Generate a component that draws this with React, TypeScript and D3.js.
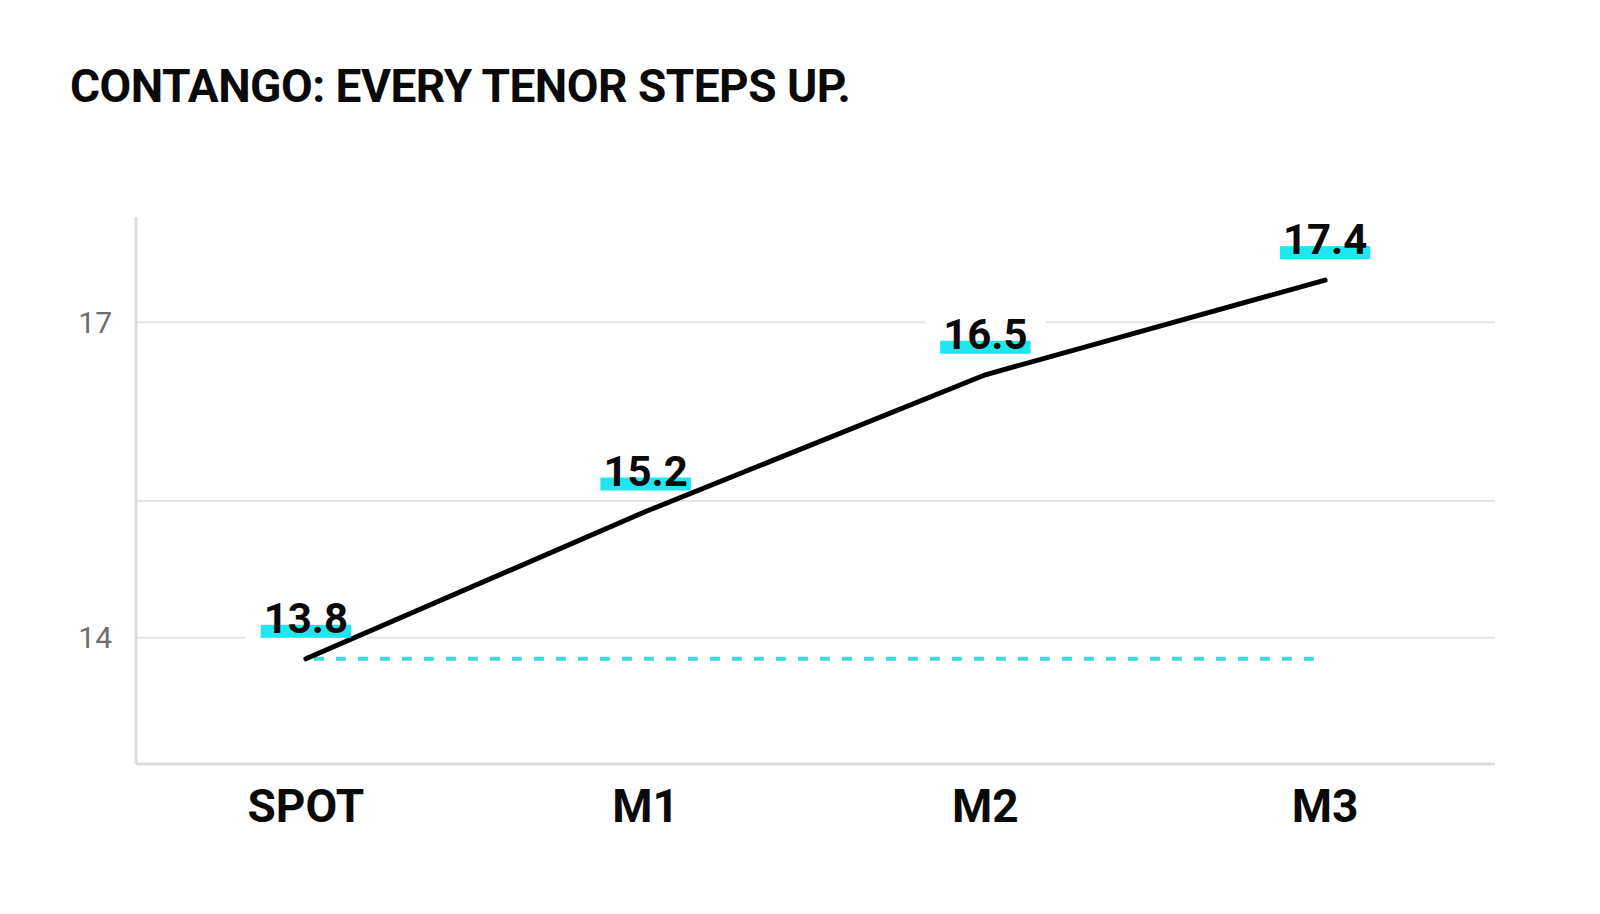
import React, { useEffect, useRef } from 'react';
import * as d3 from 'd3';

const chartTitle = 'CONTANGO: EVERY TENOR STEPS UP.';
const tenors = ['SPOT', 'M1', 'M2', 'M3'];
const curveValues = [13.8, 15.2, 16.5, 17.4];
const valueLabels = ['13.8', '15.2', '16.5', '17.4'];
const gridValues = [14, 15.3, 17];
const tickLabels = ['14', '', '17'];
const yDomain = [12.8, 18];

const WIDTH = 1600;
const HEIGHT = 914;
const FONT = "Roboto, 'Liberation Sans', Arial, sans-serif";
const CYAN = '#1fe6ef';

const App: React.FC = () => {
    const svgRef = useRef<SVGSVGElement | null>(null);

    useEffect(() => {
        document.body.style.margin = '0';
        const svg = d3.select(svgRef.current);
        svg.selectAll('*').remove();

        const plot = { left: 136, right: 1495, top: 217, bottom: 764 };

        const xScale = d3.scalePoint<string>()
            .domain(tenors)
            .range([plot.left, plot.right])
            .padding(0.5);

        const yScale = d3.scaleLinear()
            .domain(yDomain)
            .range([plot.bottom, plot.top]);

        svg.append('rect')
            .attr('width', WIDTH)
            .attr('height', HEIGHT)
            .attr('fill', '#ffffff');

        // title
        svg.append('text')
            .attr('x', 70)
            .attr('y', 102)
            .attr('font-family', FONT)
            .attr('font-weight', 700)
            .attr('font-size', 46)
            .attr('letter-spacing', -0.5)
            .attr('fill', '#0a0a0a')
            .text(chartTitle);

        // gridlines + y ticks
        const grid = svg.append('g');
        grid.selectAll('line')
            .data(gridValues)
            .join('line')
            .attr('x1', plot.left)
            .attr('x2', plot.right)
            .attr('y1', d => yScale(d))
            .attr('y2', d => yScale(d))
            .attr('stroke', '#e4e4e4')
            .attr('stroke-width', 2);

        grid.selectAll('text')
            .data(gridValues)
            .join('text')
            .attr('x', 112)
            .attr('y', d => yScale(d))
            .attr('dy', '0.35em')
            .attr('text-anchor', 'end')
            .attr('font-family', FONT)
            .attr('font-size', 30)
            .attr('fill', '#6e6e6e')
            .text((_, i) => tickLabels[i]);

        // axes
        svg.append('line')
            .attr('x1', plot.left).attr('x2', plot.left)
            .attr('y1', plot.top).attr('y2', plot.bottom)
            .attr('stroke', '#dcdcdc').attr('stroke-width', 3);
        svg.append('line')
            .attr('x1', plot.left).attr('x2', plot.right)
            .attr('y1', plot.bottom).attr('y2', plot.bottom)
            .attr('stroke', '#dcdcdc').attr('stroke-width', 3);

        svg.append('g')
            .selectAll('text')
            .data(tenors)
            .join('text')
            .attr('x', d => xScale(d)!)
            .attr('y', 822)
            .attr('text-anchor', 'middle')
            .attr('font-family', FONT)
            .attr('font-weight', 700)
            .attr('font-size', 46)
            .attr('fill', '#0a0a0a')
            .text(d => d);

        const knockout = svg.append('g');

        // spot reference (dashed)
        const spot = curveValues[0];
        svg.append('line')
            .attr('x1', xScale(tenors[0])!)
            .attr('x2', xScale(tenors[tenors.length - 1])!)
            .attr('y1', yScale(spot))
            .attr('y2', yScale(spot))
            .attr('stroke', '#3fd9e2')
            .attr('stroke-width', 4)
            .attr('stroke-dasharray', '10 12')
            .attr('stroke-dashoffset', -8);

        // forward curve
        const line = d3.line<number>()
            .x((_, i) => xScale(tenors[i])!)
            .y(d => yScale(d));

        svg.append('path')
            .datum(curveValues)
            .attr('d', line)
            .attr('fill', 'none')
            .attr('stroke', '#000000')
            .attr('stroke-width', 5)
            .attr('stroke-linecap', 'round')
            .attr('stroke-linejoin', 'round');

        // value labels with cyan highlight
        const labels = svg.append('g');
        curveValues.forEach((v, i) => {
            const cx = xScale(tenors[i])!;
            const baseline = yScale(v) - 26;
            const t = labels.append('text')
                .attr('x', cx)
                .attr('y', baseline)
                .attr('text-anchor', 'middle')
                .attr('font-family', FONT)
                .attr('font-weight', 700)
                .attr('font-size', 42)
                .attr('fill', '#0a0a0a')
                .text(valueLabels[i]);
            const w = (t.node() as SVGTextElement).getComputedTextLength();

            knockout.append('rect')
                .attr('x', cx - w / 2 - 18)
                .attr('y', baseline - 36)
                .attr('width', w + 36)
                .attr('height', 46)
                .attr('fill', '#ffffff');

            labels.insert('rect', 'text')
                .attr('x', cx - w / 2 - 3)
                .attr('y', baseline - 8)
                .attr('width', w + 6)
                .attr('height', 13)
                .attr('fill', CYAN);
        });
    }, []);

    return (
        <svg ref={svgRef} width={WIDTH} height={HEIGHT} style={{ display: 'block' }}></svg>
    );
};

export default App;
